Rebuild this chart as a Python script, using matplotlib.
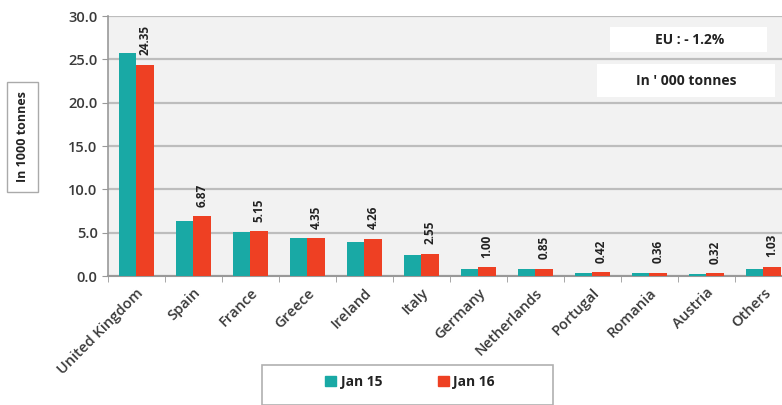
import numpy as np
import matplotlib.pyplot as plt
from matplotlib.patches import Rectangle, Patch
from matplotlib.ticker import FormatStrFormatter

plt.rcParams['font.family'] = ['Open Sans', 'DejaVu Sans']

# data
countries = ['United Kingdom', 'Spain', 'France', 'Greece', 'Ireland', 'Italy',
             'Germany', 'Netherlands', 'Portugal', 'Romania', 'Austria', 'Others']
jan15 = [25.7, 6.3, 5.05, 4.4, 3.9, 2.4, 0.85, 0.85, 0.35, 0.3, 0.2, 0.85]
jan16 = [24.35, 6.87, 5.15, 4.35, 4.26, 2.55, 1.00, 0.85, 0.42, 0.36, 0.32, 1.03]
labels16 = ['24.35', '6.87', '5.15', '4.35', '4.26', '2.55',
            '1.00', '0.85', '0.42', '0.36', '0.32', '1.03']

teal = '#19a9a5'
red = '#ee4023'
txt = '#3a3a3a'

fig = plt.figure(figsize=(7.82, 4.05), dpi=100)
W, H = 782, 405
# plot area runs off the right edge like the reference
ax = fig.add_axes([108 / W, 1 - 276 / H, 684 / W, 260 / H])
ax.set_facecolor('#f2f2f2')

x = np.arange(len(countries))
bw = 0.305
ax.bar(x - bw / 2, jan15, bw, color=teal, zorder=3)
ax.bar(x + bw / 2, jan16, bw, color=red, zorder=3)

for i in range(len(x)):
    ax.annotate(labels16[i], (x[i] + bw / 2, jan16[i]), xytext=(0, 7),
                textcoords='offset points', rotation=90, ha='center', va='bottom',
                fontsize=8.5, fontweight='bold', color='#222222')

ax.set_xlim(-0.5, len(x) - 0.5)
ax.set_ylim(0, 30)
ax.set_yticks(np.arange(0, 30.1, 5))
ax.yaxis.set_major_formatter(FormatStrFormatter('%.1f'))
ax.grid(axis='y', color='#bdbdbd', linewidth=1.6, zorder=0)
ax.set_axisbelow(True)

ax.set_xticks(x)
ax.set_xticklabels(countries, rotation=45, ha='right', rotation_mode='anchor')
ax.set_xticks(np.arange(-0.5, len(x), 1), minor=True)
ax.tick_params(axis='x', which='major', length=0, pad=7, labelsize=10.5,
               labelcolor=txt)
ax.tick_params(axis='x', which='minor', length=4, color='#999999', direction='out')
ax.tick_params(axis='y', length=4, color='#999999', labelsize=10.5, labelcolor=txt)
for lab in ax.get_xticklabels() + ax.get_yticklabels():
    lab.set_fontweight('semibold')

for s in ['top', 'right']:
    ax.spines[s].set_visible(False)
ax.spines['left'].set_color('#999999')
ax.spines['bottom'].set_color('#999999')
ax.spines['left'].set_linewidth(1.2)
ax.spines['bottom'].set_linewidth(1.5)

# y label in a little box
fig.patches.append(Rectangle((7 / W, 1 - 192 / H), 31 / W, 110 / H,
                             transform=fig.transFigure, fc='white', ec='#aaaaaa',
                             lw=1.0, zorder=0))
fig.text(22.5 / W, 1 - 137 / H, 'In 1000 tonnes', rotation=90, ha='center',
         va='center', fontsize=9, fontweight='bold', color='#222222')

# info boxes top right
fig.patches.append(Rectangle((610 / W, 1 - 52 / H), 157 / W, 25 / H,
                             transform=fig.transFigure, fc='white', ec='none', zorder=1))
fig.text(690 / W, 1 - 40 / H, 'EU : - 1.2%', ha='center', va='center',
         fontsize=10, fontweight='bold', color='#222222')
fig.patches.append(Rectangle((597 / W, 1 - 97 / H), 178 / W, 33 / H,
                             transform=fig.transFigure, fc='white', ec='none', zorder=1))
fig.text(686 / W, 1 - 81 / H, "In ' 000 tonnes", ha='center', va='center',
         fontsize=10, fontweight='bold', color='#222222')

# legend box at the bottom, cut off by the figure edge
fig.patches.append(Rectangle((262 / W, 0), 291 / W, 40 / H, transform=fig.transFigure,
                             fc='white', ec='#b0b0b0', lw=1.2, zorder=0))
handles = [Patch(color=teal, label='Jan 15'), Patch(color=red, label='Jan 16')]
leg = fig.legend(handles=handles, loc='center', bbox_to_anchor=(410 / W, 1 - 382 / H),
                 ncol=2, frameon=False, handlelength=0.8, handleheight=0.8,
                 handletextpad=0.3, columnspacing=4.0,
                 prop={'weight': 'bold', 'size': 10})
for t in leg.get_texts():
    t.set_color('#222222')

fig.savefig('out.png', dpi=100)
